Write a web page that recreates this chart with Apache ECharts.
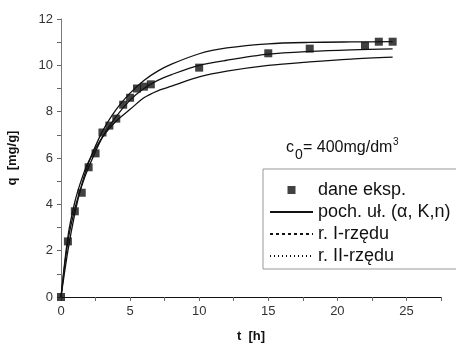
<!DOCTYPE html>
<html>
<head>
<meta charset="utf-8">
<script src="https://cdn.jsdelivr.net/npm/echarts@6/dist/echarts.min.js"></script>
<style>
html,body{margin:0;padding:0;background:#fff;}
#chart{width:456px;height:346px;}
</style>
</head>
<body>
<div id="chart"></div>
<script>
// dane eksperymentalne, t [h] / q [mg/g]
var tExp = [0, 0.5, 1, 1.5, 2, 2.5, 3, 3.5, 4, 4.5, 5, 5.5, 6, 6.5, 10, 15, 18, 22, 23, 24];
var qExp = [0, 2.4, 3.7, 4.5, 5.6, 6.2, 7.1, 7.4, 7.7, 8.3, 8.6, 9.0, 9.08, 9.18, 9.9, 10.52, 10.72, 10.84, 11.02, 11.02];

// krzywe modeli
var tFit = [0, 0.5, 1, 1.5, 2, 3, 4, 5, 6, 7, 8, 10, 12, 15, 18, 21, 24];
var qPoch = [0, 2.4, 3.8, 4.8, 5.6, 6.9, 7.8, 8.5, 9.0, 9.35, 9.6, 10.0, 10.22, 10.48, 10.6, 10.67, 10.71];
var qRz1 = [0, 2.0, 3.6, 4.85, 5.8, 7.15, 8.1, 8.8, 9.35, 9.75, 10.05, 10.5, 10.75, 10.93, 10.99, 11.01, 11.02];
var qRz2 = [0, 2.6, 4.1, 5.1, 5.85, 6.9, 7.6, 8.1, 8.6, 8.9, 9.1, 9.5, 9.75, 10.0, 10.15, 10.27, 10.35];

var names = ['dane eksp.', 'poch. uł. (α, K,n)', 'r. I-rzędu', 'r. II-rzędu'];

function zip(xs, ys){
    return xs.map(function(x, i){ return [x, ys[i]]; });
}

var chart = echarts.init(document.getElementById('chart'));
var font = 'Liberation Sans, Arial, sans-serif';

var curveStyle = {color:'#111', width:1.3};
var noDot = {opacity:0};

chart.setOption({
    animation:false,
    textStyle:{fontFamily:font},
    grid:{left:61, right:15, top:19, bottom:49, outerBoundsMode:'none', containLabel:false},
    xAxis:{
        type:'value',
        min:0, max:27.5, interval:2.5,
        name:'t  [h]',
        nameLocation:'middle',
        nameGap:33,
        nameTextStyle:{fontSize:13, fontWeight:'bold', color:'#111', fontFamily:font},
        axisLine:{lineStyle:{color:'#111', width:1.2}},
        axisTick:{length:4, lineStyle:{color:'#666'}},
        axisLabel:{fontSize:13, color:'#333', margin:8,
            formatter:function(v){ return v % 5 === 0 ? v : ''; }},
        splitLine:{show:false}
    },
    yAxis:{
        type:'value',
        min:0, max:12, interval:1,
        name:'q  [mg/g]',
        nameLocation:'middle',
        nameGap:42,
        nameTextStyle:{fontSize:13, fontWeight:'bold', color:'#111', fontFamily:font},
        axisLine:{show:true, lineStyle:{color:'#777', width:1}},
        axisTick:{show:true, length:4, lineStyle:{color:'#666'}},
        axisLabel:{fontSize:13, color:'#333', margin:8,
            formatter:function(v){ return v % 2 === 0 ? v : ''; }},
        splitLine:{show:false}
    },
    legend:{
        orient:'vertical',
        left:263, top:169,
        padding:[12, 8, 4, 6],
        itemWidth:43, itemHeight:8,
        itemGap:4,
        borderColor:'#999', borderWidth:1,
        textStyle:{fontSize:18, color:'#111', fontFamily:font},
        data:[
            {name:names[0], icon:'path://M0,0H8V8H0Z'},
            {name:names[1], itemStyle:noDot, lineStyle:{type:'solid'}},
            {name:names[2], itemStyle:noDot, lineStyle:{type:[3, 3]}},
            {name:names[3], itemStyle:noDot, lineStyle:{type:[1, 3]}}
        ]
    },
    graphic:[
        {type:'text', left:286, top:140, style:{text:'c', font:'16px ' + font, fill:'#111'}},
        {type:'text', left:295, top:148, style:{text:'0', font:'14px ' + font, fill:'#111'}},
        {type:'text', left:303, top:140, style:{text:'= 400mg/dm', font:'16px ' + font, fill:'#111'}},
        {type:'text', left:393, top:137, style:{text:'3', font:'10px ' + font, fill:'#111'}}
    ],
    series:[
        {
            name:names[1], type:'line', symbol:'none', smooth:0.3,
            data:zip(tFit, qPoch), lineStyle:curveStyle, itemStyle:{color:'#111'}, z:2
        },
        {
            name:names[2], type:'line', symbol:'none', smooth:0.3,
            data:zip(tFit, qRz1), lineStyle:curveStyle, itemStyle:{color:'#111'}, z:2
        },
        {
            name:names[3], type:'line', symbol:'none', smooth:0.3,
            data:zip(tFit, qRz2), lineStyle:curveStyle, itemStyle:{color:'#111'}, z:2
        },
        {
            name:names[0], type:'scatter', symbol:'rect', symbolSize:8,
            data:zip(tExp, qExp), itemStyle:{color:'#111'}, z:3
        }
    ]
});
</script>
</body>
</html>
